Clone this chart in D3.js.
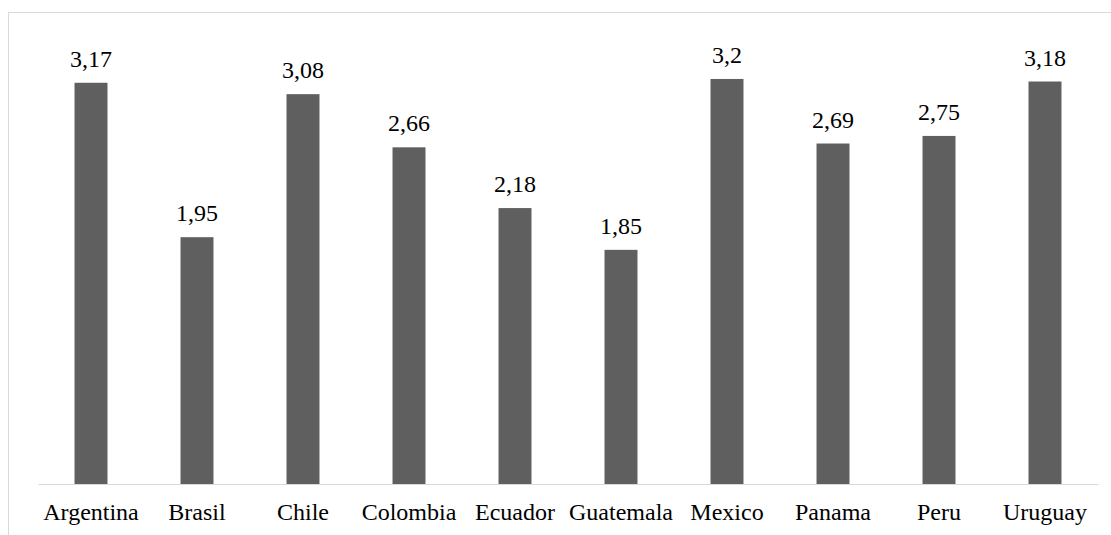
<!DOCTYPE html>
<html>
<head>
<meta charset="utf-8">
<script src="https://cdn.jsdelivr.net/npm/d3@7/dist/d3.min.js"></script>
<style>
  html, body { margin: 0; padding: 0; background: #ffffff; }
  svg { display: block; }
</style>
</head>
<body>
<svg id="chart" width="1111" height="535"></svg>
<script>
// Country names along the x axis
const countries = ["Argentina", "Brasil", "Chile", "Colombia", "Ecuador",
                   "Guatemala", "Mexico", "Panama", "Peru", "Uruguay"];
// Score per country
const scores = [3.17, 1.95, 3.08, 2.66, 2.18, 1.85, 3.2, 2.69, 2.75, 3.18];
// Value axis extent
const yDomain = [0, 3.5];

const FONT = "'Liberation Serif'";
const FONT_SIZE = "24px";

const svg = d3.select("#chart");
const W = 1111, H = 535;

// Chart area frame (runs off the right and bottom edges)
svg.append("rect")
  .attr("x", 8.5).attr("y", 12.5)
  .attr("width", W + 20).attr("height", H + 20)
  .attr("fill", "#ffffff")
  .attr("stroke", "#d9d9d9")
  .attr("stroke-width", 1);

const plot = { left: 38, right: 1098, top: 41, bottom: 484 };

const x = d3.scaleBand()
  .domain(countries)
  .range([plot.left, plot.right])
  .paddingInner(0.689)
  .paddingOuter(0.3445);

const y = d3.scaleLinear()
  .domain(yDomain)
  .range([plot.bottom, plot.top]);

const data = countries.map((c, i) => ({ country: c, value: scores[i] }));

// Bars
svg.append("g")
  .selectAll("rect")
  .data(data)
  .join("rect")
  .attr("x", d => x(d.country))
  .attr("y", d => y(d.value))
  .attr("width", x.bandwidth())
  .attr("height", d => y(0) - y(d.value))
  .attr("fill", "#5f5f5f");

// Value labels with decimal comma
const fmt = v => String(v).replace(".", ",");
svg.append("g")
  .selectAll("text")
  .data(data)
  .join("text")
  .attr("x", d => x(d.country) + x.bandwidth() / 2)
  .attr("y", d => y(d.value) - 16)
  .attr("text-anchor", "middle")
  .style("font-family", FONT)
  .style("font-size", FONT_SIZE)
  .style("fill", "#000")
  .text(d => fmt(d.value));

// Category axis
const xAxis = svg.append("g")
  .attr("transform", `translate(0,${plot.bottom})`)
  .call(d3.axisBottom(x).tickSize(0).tickSizeOuter(0).tickPadding(19));

xAxis.attr("font-family", "Liberation Serif").attr("font-size", 24);

xAxis.select(".domain")
  .attr("stroke", "#d9d9d9")
  .attr("stroke-width", 1.2);

xAxis.selectAll(".tick text")
  .style("font-family", FONT)
  .style("font-size", FONT_SIZE)
  .style("fill", "#000");
</script>
</body>
</html>
